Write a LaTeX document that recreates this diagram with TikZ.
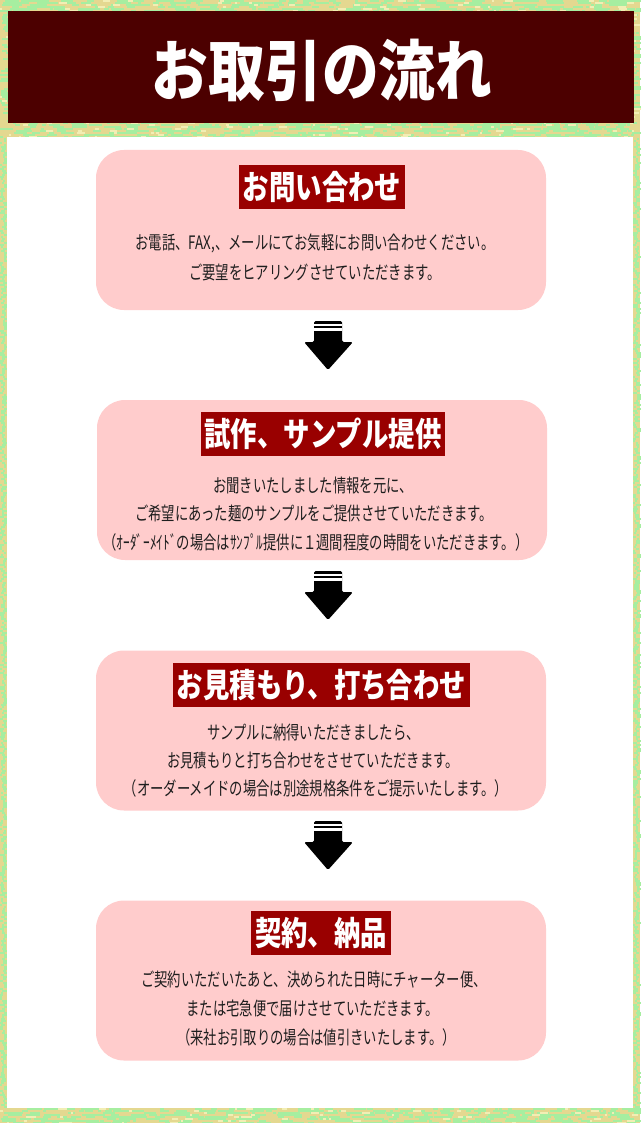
\documentclass[tikz,border=0pt]{standalone}
\usepackage{fontspec}
\usepackage{graphicx}
\newfontfamily\jp{Noto Sans CJK JP}
\definecolor{bordertan}{HTML}{E4D890}
\definecolor{bordergreen}{HTML}{A6EEA0}
\definecolor{borderpale}{HTML}{F2EEB4}
\definecolor{headerred}{HTML}{4C0000}
\definecolor{titlered}{HTML}{990000}
\definecolor{boxpink}{HTML}{FFCCCC}
\definecolor{bodytext}{HTML}{1E1E1E}
\newcommand\narrowtxt[1]{\scalebox{0.72}[1]{#1}}
\newcommand\narrowtitle[1]{\scalebox{0.80}[1]{#1}}
\tikzset{
  stepbox/.style={fill=boxpink, draw=none, rounded corners=28pt, minimum width=450pt, minimum height=160pt, inner sep=0pt},
  titlelbl/.style={fill=titlered, text=white, inner xsep=4pt, inner ysep=0pt, minimum height=44pt, font=\jp\bfseries\fontsize{33}{33}\selectfont},
  bodyline/.style={text=bodytext, inner sep=0pt, font=\jp\fontsize{18.5}{18.5}\selectfont},
  headbox/.style={fill=headerred, draw=none, minimum width=626pt, minimum height=112pt, inner sep=0pt},
  headtext/.style={text=white, inner sep=0pt, font=\jp\bfseries\fontsize{66}{66}\selectfont},
  downarrow/.pic={
    \fill[black, rounded corners=1.5pt] (-14,0) -- (14,0) -- (14,21) -- (25,21) -- (0,49) -- (-24,21) -- (-14,21) -- cycle;
    \fill[white] (-14,3) rectangle (14,5.3);
    \fill[white] (-14,7.3) rectangle (14,9.7);
  }
}
\begin{document}
\begin{tikzpicture}[x=1pt,y=-1pt]
\useasboundingbox (0,0) rectangle (640,1123);
% textured border
\pgfmathsetseed{4242}
\fill[bordertan] (0,0) rectangle (640,1123);
\foreach \r in {0,2,...,136,1108,1110,...,1122} {
  \foreach \i in {1,...,55} {
    \pgfmathsetmacro\xx{random(0,636)}
    \pgfmathsetmacro\ww{random(3,14)}
    \fill[bordergreen] (\xx,\r) rectangle ++(\ww,2);
  }
  \foreach \i in {1,...,8} {
    \pgfmathsetmacro\xx{random(0,636)}
    \pgfmathsetmacro\ww{random(2,8)}
    \fill[borderpale] (\xx,\r) rectangle ++(\ww,2);
  }
}
\foreach \r in {138,140,...,1106} {
  \pgfmathsetmacro\xa{random(0,4)}
  \pgfmathsetmacro\xb{random(633,637)}
  \pgfmathsetmacro\wa{random(2,5)}
  \pgfmathsetmacro\wb{random(2,5)}
  \fill[bordergreen] (\xa,\r) rectangle ++(\wa,2);
  \fill[bordergreen] (\xb,\r) rectangle ++(\wb,2);
}
% white sheet
\fill[white] (7,137) rectangle (633,1108);
% header
\node[headbox] (header) at (321,67) {};
\node[headtext] (headtitle) at (322,70) {\scalebox{0.86}[1]{お取引の流れ}};
% step boxes
\node[stepbox] (box1) at (321,230) {};
\node[stepbox] (box2) at (322,480) {};
\node[stepbox] (box3) at (321,730.5) {};
\node[stepbox] (box4) at (321,980.5) {};
% titles
\node[titlelbl] (t1) at (322,187) {\narrowtitle{お問い合わせ}};
\node[titlelbl] (t2) at (323,434) {\narrowtitle{試作、サンプル提供}};
\node[titlelbl] (t3) at (321.5,685) {\narrowtitle{お見積もり、打ち合わせ}};
\node[titlelbl] (t4) at (321,933) {\narrowtitle{契約、納品}};
% body texts
\node[bodyline] (b1a) at (315,243) {\narrowtxt{お電話、FAX,、メールにてお気軽にお問い合わせください。}};
\node[bodyline] (b1b) at (315,272) {\narrowtxt{ご要望をヒアリングさせていただきます。}};
\node[bodyline] (b2a) at (313,485) {\narrowtxt{お聞きいたしました情報を元に、}};
\node[bodyline] (b2b) at (314,513) {\narrowtxt{ご希望にあった麺のサンプルをご提供させていただきます。}};
\node[bodyline] (b2c) at (316,542) {\narrowtxt{（ｵｰﾀﾞｰﾒｲﾄﾞの場合はｻﾝﾌﾟﾙ提供に１週間程度の時間をいただきます。）}};
\node[bodyline] (b3a) at (313.5,732) {\narrowtxt{サンプルに納得いただきましたら、}};
\node[bodyline] (b3b) at (313,760) {\narrowtxt{お見積もりと打ち合わせをさせていただきます。}};
\node[bodyline] (b3c) at (316,788) {\narrowtxt{（オーダーメイドの場合は別途規格条件をご提示いたします。）}};
\node[bodyline] (b4a) at (314,980) {\narrowtxt{ご契約いただいたあと、決められた日時にチャーター便、}};
\node[bodyline] (b4b) at (312.5,1008) {\narrowtxt{または宅急便で届けさせていただきます。}};
\node[bodyline] (b4c) at (316.5,1037) {\narrowtxt{（来社お引取りの場合は値引きいたします。）}};
% arrows
\coordinate (a1) at (328,321);
\coordinate (a2) at (328,571);
\coordinate (a3) at (328,821);
\pic at (a1) {downarrow};
\pic at (a2) {downarrow};
\pic at (a3) {downarrow};
\end{tikzpicture}
\end{document}
